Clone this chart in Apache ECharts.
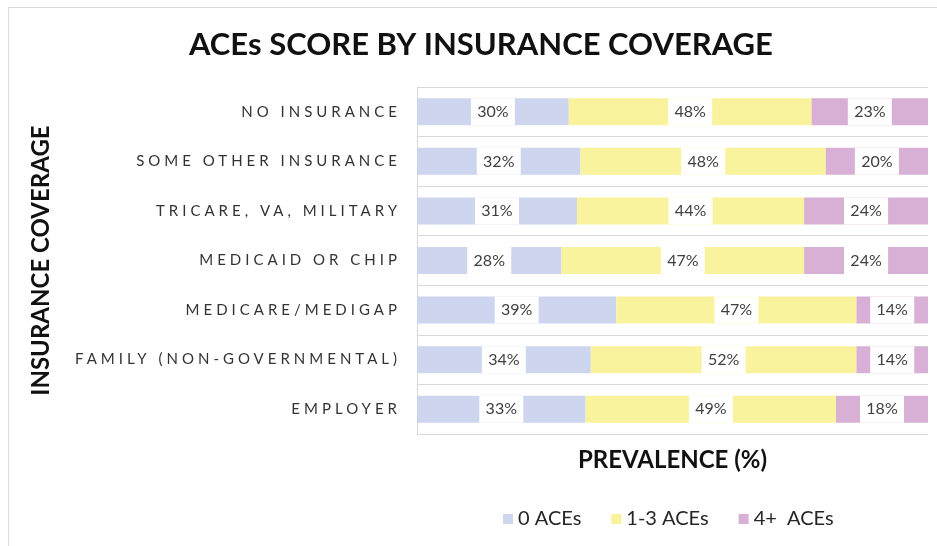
<!DOCTYPE html>
<html>
<head>
<meta charset="utf-8">
<script src="https://cdn.jsdelivr.net/npm/echarts@6/dist/echarts.min.js"></script>
<style>
  html, body { margin: 0; padding: 0; background: #fff; }
  #chart { width: 937px; height: 546px; }
</style>
</head>
<body>
<div id="chart"></div>
<script>
// categories, top to bottom
const categories = [
  "NO INSURANCE",
  "SOME OTHER INSURANCE",
  "TRICARE, VA, MILITARY",
  "MEDICAID OR CHIP",
  "MEDICARE/MEDIGAP",
  "FAMILY (NON-GOVERNMENTAL)",
  "EMPLOYER"
];
const seriesNames = ["0 ACEs", "1-3 ACEs", "4+  ACEs"];
const zeroAces = [30, 32, 31, 28, 39, 34, 33];
const oneToThree = [48, 48, 44, 47, 47, 52, 49];
const fourPlus = [23, 20, 24, 24, 14, 14, 18];
const colors = ["#cdd6ee", "#f8f39c", "#d8b0d5"];

const font = "Lato, 'Open Sans', sans-serif";
// the category labels are letter-spaced in the original; tag their font so
// the canvas can space them out (echarts has no letterSpacing option)
const spacedFont = "Lato, Carlito, sans-serif";
const origFillText = CanvasRenderingContext2D.prototype.fillText;
CanvasRenderingContext2D.prototype.fillText = function (text, x, y, maxW) {
  if ("letterSpacing" in this) {
    this.letterSpacing = this.font.indexOf("Carlito") >= 0 ? "4px" : "0px";
  }
  return maxW === undefined
    ? origFillText.call(this, text, x, y)
    : origFillText.call(this, text, x, y, maxW);
};

const chart = echarts.init(document.getElementById("chart"));

// 100% stacked: each row scaled to its own total, label shows the read value
const rawSeries = [zeroAces, oneToThree, fourPlus];
const rowTotals = categories.map((_, i) => rawSeries.reduce((s, arr) => s + arr[i], 0));

const series = rawSeries.map((arr, k) => ({
  name: seriesNames[k],
  type: "bar",
  stack: "total",
  barWidth: 27,
  itemStyle: { color: colors[k] },
  data: arr.map((v, i) => ({ value: v / rowTotals[i] * 100, raw: v })),
  label: {
    show: true,
    position: "inside",
    formatter: (p) => p.data.raw + "%",
    color: "#404040",
    fontFamily: font,
    fontSize: 16,
    backgroundColor: "#fff",
    width: 44,
    lineHeight: 15,
    padding: [6, 0, 6, 0],
    align: "center"
  },
  emphasis: { disabled: true }
}));

const option = {
  backgroundColor: "#fff",
  animation: false,
  title: {
    text: "ACEs SCORE BY INSURANCE COVERAGE",
    left: 184,
    top: 24,
    padding: 5,
    textStyle: {
      fontFamily: font,
      fontSize: 31,
      fontWeight: "bold",
      color: "#111"
    }
  },
  legend: {
    bottom: 12,
    left: 498,
    itemWidth: 10,
    itemHeight: 10,
    itemGap: 30,
    icon: "rect",
    textStyle: { fontFamily: font, fontSize: 20, color: "#262626" },
    data: seriesNames
  },
  grid: {
    left: 417,
    right: 9,
    top: 87,
    bottom: 112
  },
  xAxis: {
    type: "value",
    min: 0,
    max: 100,
    name: "PREVALENCE (%)",
    nameLocation: "middle",
    nameGap: 14,
    nameTextStyle: {
      fontFamily: font,
      fontSize: 24,
      fontWeight: "bold",
      color: "#111"
    },
    axisLabel: { show: false },
    axisLine: { show: false },
    axisTick: { show: false },
    splitLine: { show: false }
  },
  yAxis: {
    type: "category",
    inverse: true,
    data: categories,
    name: "INSURANCE COVERAGE",
    nameLocation: "middle",
    nameGap: 364,
    nameRotate: 90,
    nameTextStyle: {
      fontFamily: font,
      fontSize: 24,
      fontWeight: "bold",
      color: "#111"
    },
    axisLine: { show: true, lineStyle: { color: "#d9d9d9" } },
    axisTick: { show: false },
    axisLabel: {
      interval: 0,
      margin: 16,
      fontFamily: spacedFont,
      fontSize: 15,
      color: "#333"
    },
    splitLine: { show: true, lineStyle: { color: "#d9d9d9", width: 1 } }
  },
  graphic: [
    {
      type: "polyline",
      silent: true,
      shape: { points: [[8.5, 546], [8.5, 7.5], [937, 7.5]] },
      style: { stroke: "#d9d9d9", lineWidth: 1, fill: null }
    }
  ],
  series: series
};

chart.setOption(option);
</script>
</body>
</html>
